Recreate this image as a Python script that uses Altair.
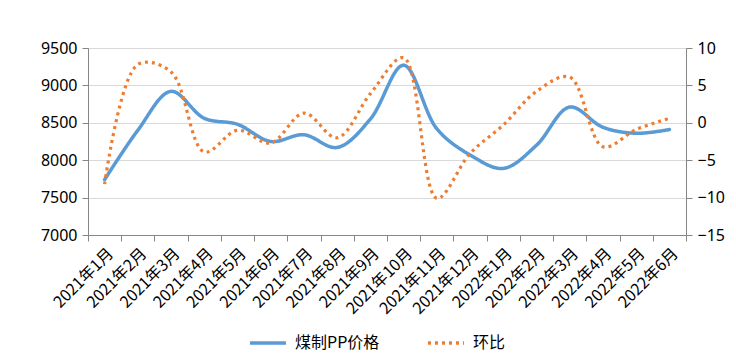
import altair as alt
import pandas as pd

months = ["2021年1月", "2021年2月", "2021年3月", "2021年4月", "2021年5月", "2021年6月",
          "2021年7月", "2021年8月", "2021年9月", "2021年10月", "2021年11月", "2021年12月",
          "2022年1月", "2022年2月", "2022年3月", "2022年4月", "2022年5月", "2022年6月"]
price = [7740, 8400, 8920, 8560, 8480, 8250, 8340, 8170, 8550, 9270, 8420, 8070,
         7890, 8200, 8710, 8440, 8360, 8410]
mom = [-8.2, 7.8, 6.8, -3.9, -1.0, -2.7, 1.3, -2.0, 3.9, 8.7, -10.1, -4.1,
       -0.3, 4.2, 6.1, -3.2, -0.9, 0.6]
series = ["煤制PP价格", "环比"]

df1 = pd.DataFrame({"month": months, "value": price, "series": series[0]})
df2 = pd.DataFrame({"month": months, "value": mom, "series": series[1]})

FONT_CJK = "Noto Sans CJK SC"
FONT_NUM = "Noto Sans"
AXIS_COLOR = "#868686"

x = alt.X("month:N", sort=months,
          scale=alt.Scale(type="band", paddingInner=0, paddingOuter=0),
          axis=alt.Axis(title=None, labelAngle=-45, tickBand="extent", grid=False,
                        domainColor=AXIS_COLOR, tickColor=AXIS_COLOR, tickSize=6,
                        labelFont=FONT_CJK, labelFontSize=16, labelColor="#000000",
                        labelPadding=4))

legend = alt.Legend(title=None, orient="none", legendX=160, legendY=275,
                    direction="horizontal",
                    symbolType="stroke", symbolSize=1300,
                    symbolStrokeWidth=3.5, labelFont=FONT_CJK,
                    labelFontSize=16, labelColor="#000000",
                    columnPadding=40, labelOffset=7)

color = alt.Color("series:N", sort=series,
                  scale=alt.Scale(domain=series, range=["#5B9BD5", "#ED7D31"]),
                  legend=legend)
dash = alt.StrokeDash("series:N", sort=series,
                      scale=alt.Scale(domain=series, range=[[1, 0], [3, 4]]),
                      legend=legend)

left = alt.Chart(df1).mark_line(interpolate="catmull-rom", strokeWidth=3.5, strokeCap="round").encode(
    x=x,
    y=alt.Y("value:Q", scale=alt.Scale(domain=[7000, 9500], nice=False, zero=False),
            axis=alt.Axis(title=None, values=[7000, 7500, 8000, 8500, 9000, 9500],
                          format="d", orient="left", grid=True, gridColor="#D9D9D9",
                          domainColor=AXIS_COLOR, tickColor=AXIS_COLOR, tickSize=6,
                          labelFont=FONT_NUM, labelFontSize=16, labelColor="#000000",
                          labelPadding=5)),
    color=color,
    strokeDash=dash,
)

right = alt.Chart(df2).mark_line(interpolate="catmull-rom", strokeWidth=3.2, strokeCap="butt").encode(
    x=x,
    y=alt.Y("value:Q", scale=alt.Scale(domain=[-15, 10], nice=False, zero=False),
            axis=alt.Axis(title=None, values=[-15, -10, -5, 0, 5, 10],
                          format="d", orient="right", grid=False,
                          domainColor=AXIS_COLOR, tickColor=AXIS_COLOR, tickSize=6,
                          labelFont=FONT_NUM, labelFontSize=16, labelColor="#000000",
                          labelPadding=5)),
    color=color,
    strokeDash=dash,
)

chart = alt.layer(left, right).resolve_scale(y="independent").properties(
    width=598, height=187,
    autosize=alt.AutoSizeParams(type="none"),
    padding={"left": 80, "top": 40, "right": 42, "bottom": 120},
).configure_view(stroke=None).configure(background="#FFFFFF")

chart.save("out.html", embed_options={"renderer": "svg", "actions": False})
